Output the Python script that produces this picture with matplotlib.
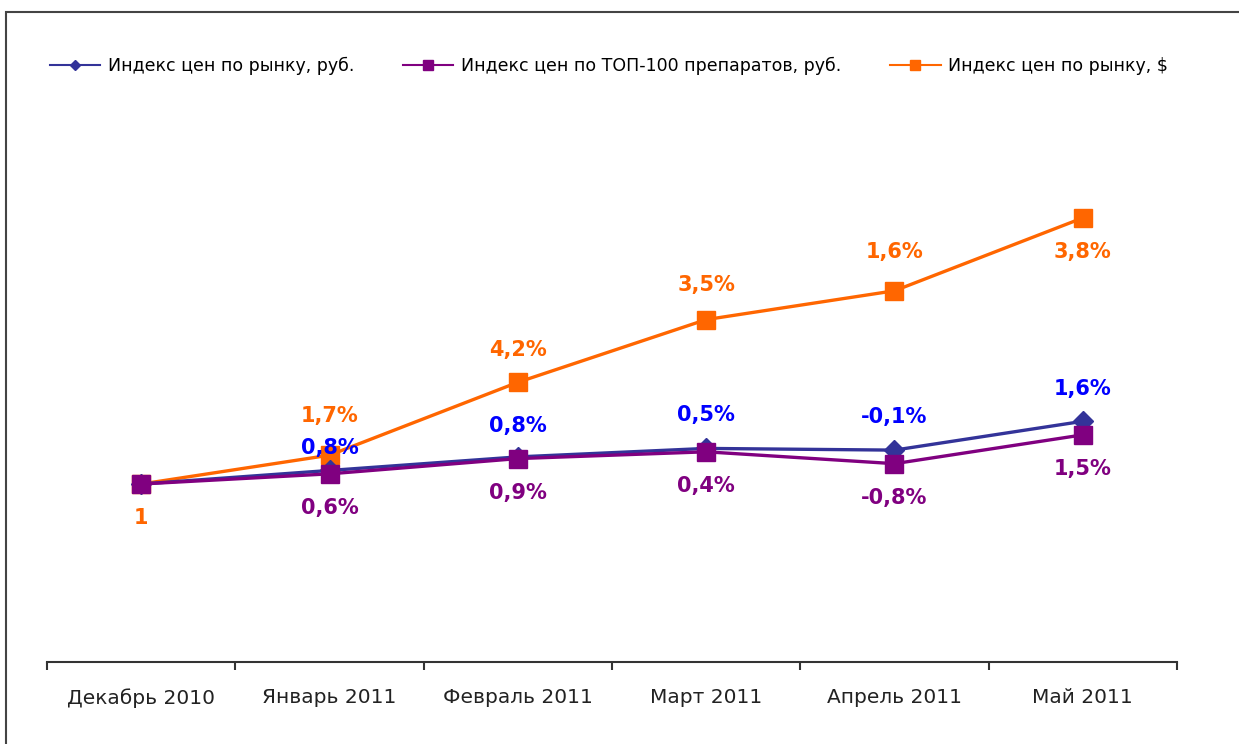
import matplotlib.pyplot as plt
from matplotlib.patches import Rectangle

# months and index values
months = ["Декабрь 2010", "Январь 2011", "Февраль 2011", "Март 2011", "Апрель 2011", "Май 2011"]
market_rub = [1.000, 1.008, 1.016, 1.021, 1.020, 1.037]
top100_rub = [1.000, 1.006, 1.015, 1.019, 1.012, 1.029]
market_usd = [1.000, 1.017, 1.060, 1.097, 1.114, 1.157]

market_rub_lbl = ["", "0,8%", "0,8%", "0,5%", "-0,1%", "1,6%"]
top100_rub_lbl = ["", "0,6%", "0,9%", "0,4%", "-0,8%", "1,5%"]
market_usd_lbl = ["1", "1,7%", "4,2%", "3,5%", "1,6%", "3,8%"]

names = ["Индекс цен по рынку, руб.", "Индекс цен по ТОП-100 препаратов, руб.", "Индекс цен по рынку, $"]

plt.rcParams['font.family'] = ['DejaVu Sans']

fig = plt.figure(figsize=(12.39, 7.44), dpi=100)
ax = fig.add_axes([47 / 1239, 82 / 744, 1130 / 1239, 517 / 744])

x = list(range(len(months)))
l1, = ax.plot(x, market_rub, color='#333399', lw=2.4, marker='D', ms=10, zorder=3)
l2, = ax.plot(x, top100_rub, color='#800080', lw=2.4, marker='s', ms=13.5, zorder=4)
l3, = ax.plot(x, market_usd, color='#FF6600', lw=2.4, marker='s', ms=13.5, zorder=2)

# label offsets in pixels (layout only)
rub_off = [0, 22, 31, 33, 33, 32]
usd_off = [-34, 39, 32, 35, 39, -34]
lbl_kw = dict(textcoords='offset pixels', ha='center', va='center',
              fontsize=15, fontweight='bold', zorder=6)
for i in x:
    if market_rub_lbl[i]:
        ax.annotate(market_rub_lbl[i], (i, market_rub[i]), xytext=(0, rub_off[i]),
                    color='#0000FF', **lbl_kw)
    if top100_rub_lbl[i]:
        ax.annotate(top100_rub_lbl[i], (i, top100_rub[i]), xytext=(0, -34),
                    color='#800080', **lbl_kw)
    ax.annotate(market_usd_lbl[i], (i, market_usd[i]), xytext=(0, usd_off[i]),
                color='#FF6600', **lbl_kw)

ax.set_xlim(-0.5, len(months) - 0.5)
ax.set_ylim(0.895, 1.2)
ax.set_xticks([i - 0.5 for i in range(len(months) + 1)])
ax.set_xticklabels([])
ax.set_xticks(x, minor=True)
ax.set_xticklabels(months, minor=True, fontsize=14.5, color='#222222')
ax.tick_params(axis='x', which='major', length=6, width=1.5, color='#333333', direction='out')
ax.tick_params(axis='x', which='minor', length=0, pad=19)
ax.set_yticks([])
for s in ['left', 'right', 'top']:
    ax.spines[s].set_visible(False)
ax.spines['bottom'].set_color('#333333')
ax.spines['bottom'].set_linewidth(1.5)

h1, = ax.plot([], [], color='#333399', lw=1.5, marker='D', ms=5)
h2, = ax.plot([], [], color='#800080', lw=1.5, marker='s', ms=7)
h3, = ax.plot([], [], color='#FF6600', lw=1.5, marker='s', ms=7)
fig.legend([h1, h2, h3], names, loc='center left', bbox_to_anchor=(50 / 1239, 1 - 66 / 744),
           ncol=3, frameon=False, fontsize=12.5, handlelength=2.9, handletextpad=0.45,
           columnspacing=2.8, borderaxespad=0, borderpad=0)

# outer frame
fig.patches.append(Rectangle((6 / 1239, -0.1), 1.2, 1 - 12 / 744 + 0.1, transform=fig.transFigure,
                             fill=False, edgecolor='#444444', lw=1.5))

fig.savefig('out.png', dpi=100)
